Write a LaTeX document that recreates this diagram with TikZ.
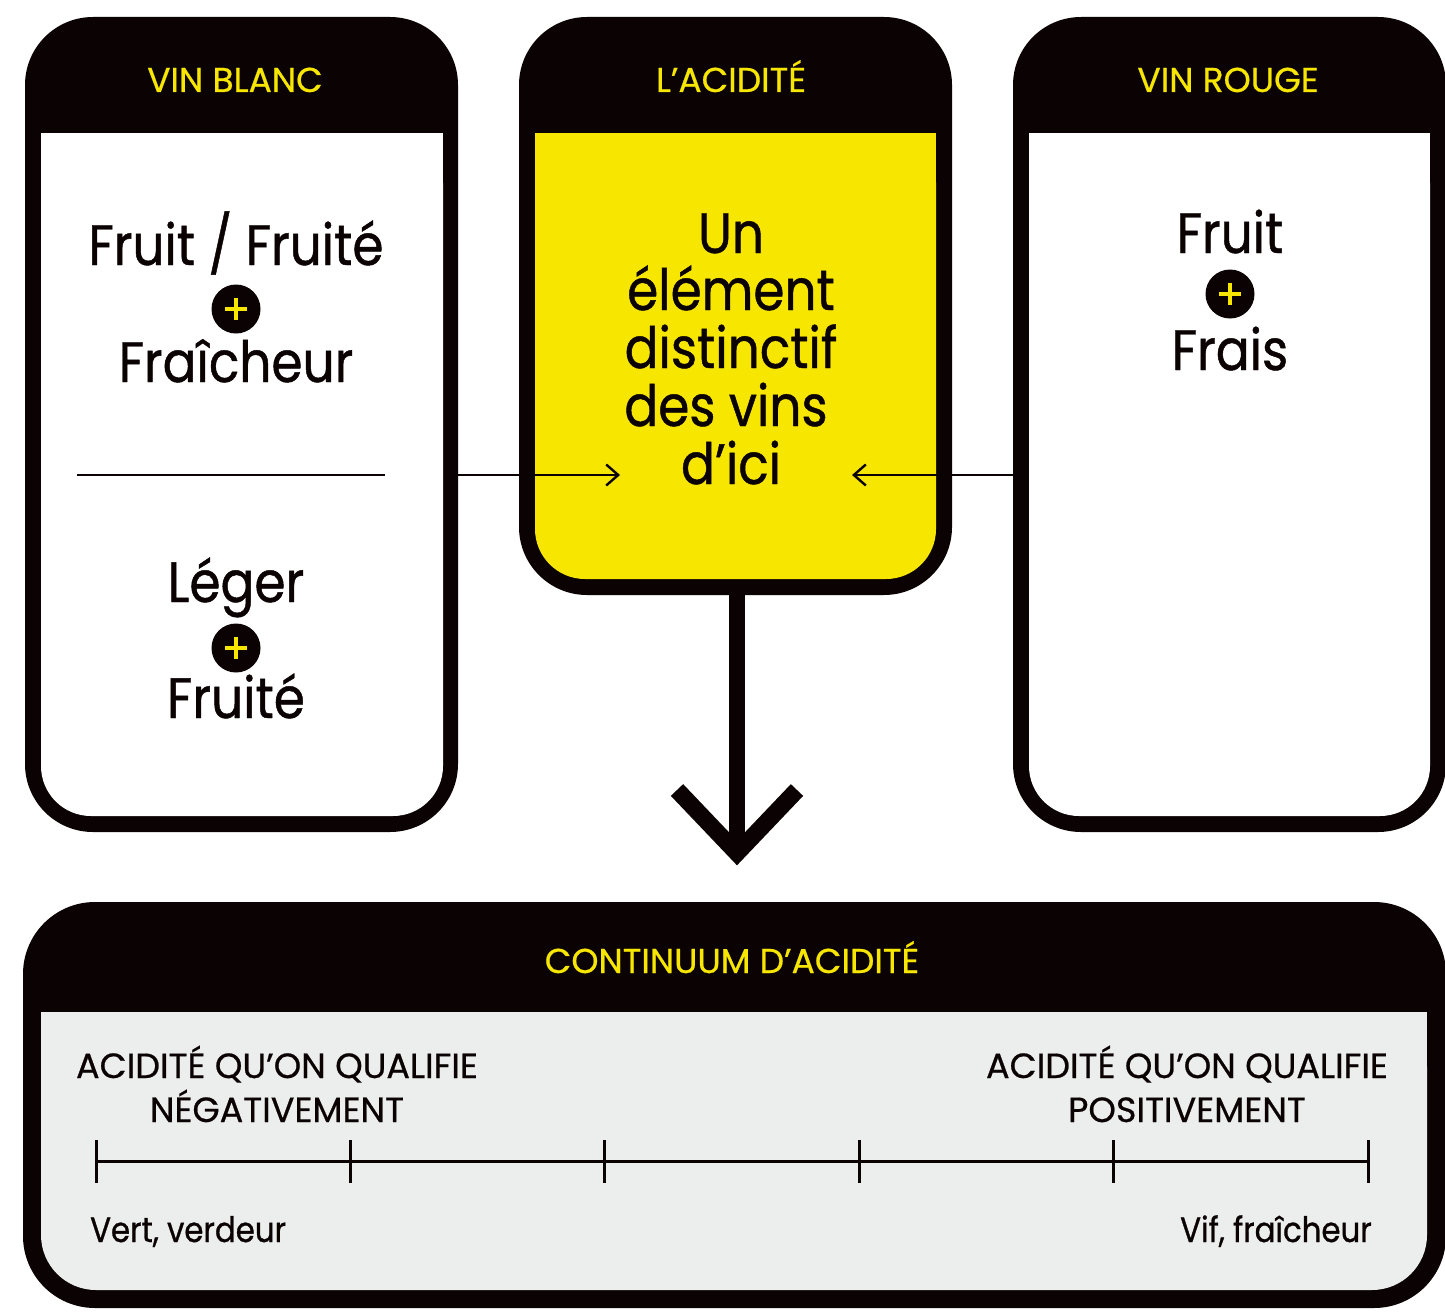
\documentclass[tikz,border=0pt]{standalone}
\usepackage{fontspec}
\setmainfont{Poppins}[FakeStretch=0.88, FakeBold=0.8]
\newfontfamily\capsfont{Poppins}[FakeBold=0.6]
\usetikzlibrary{arrows.meta}
\definecolor{ink}{HTML}{0A0203}
\definecolor{jaune}{HTML}{F7E600}
\definecolor{gris}{HTML}{ECEEED}
\begin{document}
\begin{tikzpicture}[x=1pt,y=-1pt,
  outerbox/.style={rectangle, fill=ink, rounded corners=68pt, inner sep=0pt, outer sep=0pt},
  innerbox/.style={rectangle, rounded corners=50pt, inner sep=0pt, outer sep=0pt},
  headtxt/.style={text=jaune, font=\capsfont\fontsize{34.5}{40}\selectfont, anchor=base, inner sep=0pt},
  bigtxt/.style={text=ink, font=\fontsize{57}{58}\selectfont, anchor=base, inner sep=0pt, align=center},
  labtxt/.style={text=ink, font=\capsfont\fontsize{35}{44}\selectfont, inner sep=0pt, align=center},
  smalltxt/.style={text=ink, font=\fontsize{35}{44}\selectfont, inner sep=0pt},
  plus/.style={circle, fill=ink, minimum size=49pt, inner sep=0pt,
    path picture={\draw[jaune, line width=3.6pt]
      ([xshift=-11pt]path picture bounding box.center) -- ([xshift=11pt]path picture bounding box.center)
      ([yshift=-11pt]path picture bounding box.center) -- ([yshift=11pt]path picture bounding box.center);}},
  thinarrow/.style={draw=ink, line width=2.4pt, -{Straight Barb[length=12pt,width=21pt,line width=2.4pt]}},
  shaft/.style={draw=ink, line width=16pt},
  chevron/.style={draw=ink, line width=17pt, line join=miter},
  rule/.style={draw=ink, line width=2pt},
  scaleline/.style={draw=ink, line width=3pt}
]
\useasboundingbox (0,0) rectangle (1445,1314);

% ---- Vin blanc ----
\node[outerbox, minimum width=433pt, minimum height=815pt] (blanc) at (241.5,424.5) {};
\node[innerbox, fill=white, minimum width=402pt, minimum height=683pt] (blancin) at (242,474.5) {};
\fill[white] (41,133) rectangle (443,220);
\node[headtxt] (hblanc) at (235,92) {VIN BLANC};
\node[bigtxt] (t1) at (236,265) {Fruit / Fruité};
\node[plus] (p1) at (236,309) {};
\node[bigtxt] (t2) at (236,382) {Fraîcheur};
\draw[rule] (77,475) -- (385,475);
\node[bigtxt] (t3) at (236,602) {Léger};
\node[plus] (p2) at (236,648) {};
\node[bigtxt] (t4) at (236,718) {Fruité};

% ---- L'acidité ----
\node[outerbox, minimum width=433pt, minimum height=578pt] (acid) at (735.5,306) {};
\node[innerbox, fill=jaune, minimum width=401pt, minimum height=446pt] (acidin) at (735.5,356) {};
\fill[jaune] (535,133) rectangle (936,220);
\node[headtxt] (hacid) at (731,92) {L’ACIDITÉ};
\node[bigtxt] (t5) at (731,253) {Un};
\node[bigtxt] (t6) at (731,310) {élément};
\node[bigtxt] (t7) at (731,368) {distinctif};
\node[bigtxt] (t8) at (726,426) {des vins};
\node[bigtxt] (t9) at (731,484) {d’ici};

% ---- Vin rouge ----
\node[outerbox, minimum width=433pt, minimum height=815pt] (rouge) at (1229.5,424.5) {};
\node[innerbox, fill=white, minimum width=401pt, minimum height=683pt] (rougein) at (1229.5,474.5) {};
\fill[white] (1029,133) rectangle (1430,220);
\node[headtxt] (hrouge) at (1228,92) {VIN ROUGE};
\node[bigtxt] (t10) at (1230,253) {Fruit};
\node[plus] (p3) at (1230,294) {};
\node[bigtxt] (t11) at (1230,370) {Frais};

% ---- thin arrows ----
\coordinate (tipL) at (620,475);
\coordinate (tipR) at (852,475);
\draw[thinarrow] (blanc.east |- tipL) -- (tipL);
\draw[thinarrow] (rouge.west |- tipR) -- (tipR);

% ---- Continuum ----
\node[outerbox, rounded corners=72pt, minimum width=1423pt, minimum height=406pt] (cont) at (734.5,1105) {};
\node[innerbox, rounded corners=55pt, fill=gris, minimum width=1386pt, minimum height=278pt] (contin) at (734,1151) {};
\fill[gris] (41,1012) rectangle (1427,1080);
\node[headtxt] (hcont) at (732,973) {CONTINUUM D’ACIDITÉ};
\node[labtxt, anchor=base] (neg) at (277,1122) {ACIDITÉ QU’ON QUALIFIE\\NÉGATIVEMENT};
\node[labtxt, anchor=base] (pos) at (1187,1122) {ACIDITÉ QU’ON QUALIFIE\\POSITIVEMENT};
\draw[scaleline] (96,1161) -- (1368,1161);
\foreach \i in {0,...,5} {
  \draw[scaleline] ({96+254.4*\i},1140) -- ({96+254.4*\i},1183);
}
\node[smalltxt, anchor=base west] (vert) at (90,1242) {Vert, verdeur};
\node[smalltxt, anchor=base east] (vif) at (1372,1242) {Vif, fraîcheur};

% ---- big arrow ----
\coordinate (bigtip) at (737,853);
\draw[shaft] (bigtip |- acid.south) -- (bigtip);
\draw[chevron] ([shift={(-60,-63)}]bigtip) -- (bigtip) -- ([shift={(60,-63)}]bigtip);
\end{tikzpicture}
\end{document}
